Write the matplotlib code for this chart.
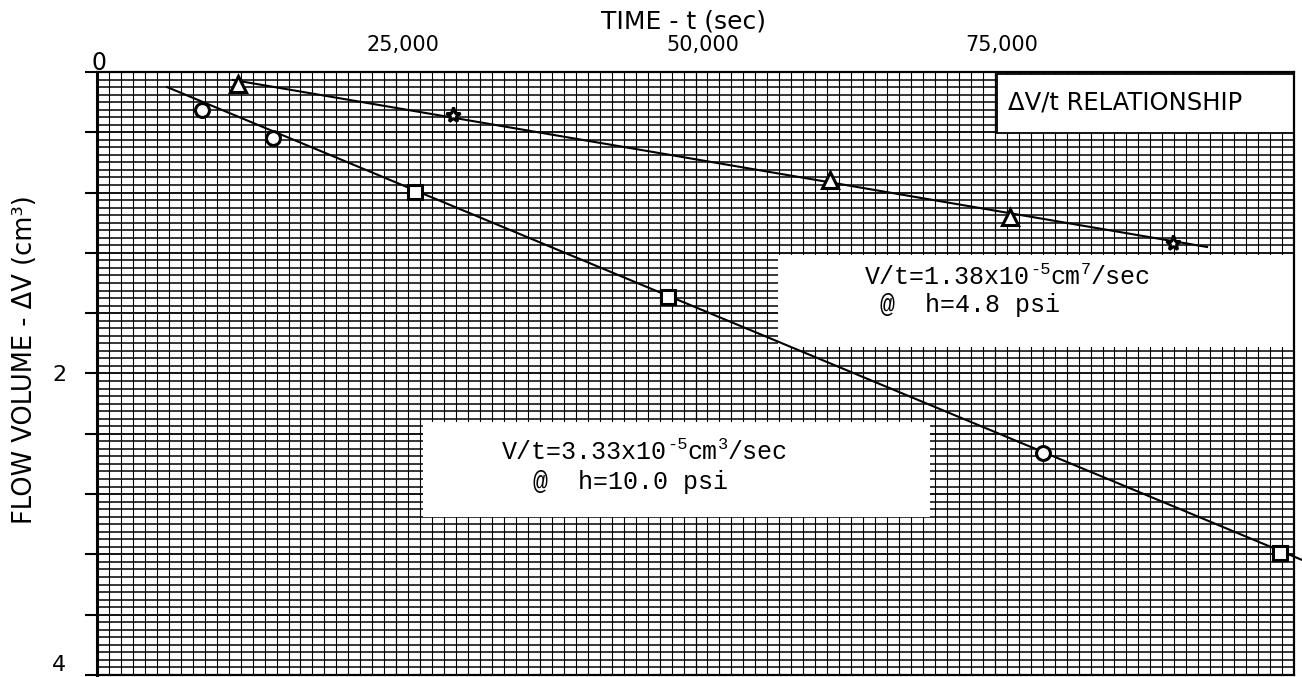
import numpy as np
import matplotlib
matplotlib.use("Agg")
import matplotlib.pyplot as plt
from matplotlib.patches import Rectangle
from matplotlib.ticker import MultipleLocator
from matplotlib.transforms import ScaledTranslation

# datos (t en s, volumen en cm3)
t_48 = [11780, 29740, 61240, 76270, 89890]
v_48 = [0.080, 0.285, 0.716, 0.962, 1.134]
t_100 = [8770, 14700, 26570, 47700, 79030, 98830]
v_100 = [0.252, 0.438, 0.796, 1.493, 2.527, 3.191]

# rectas de ajuste (extremos leidos)
fit_t_48 = [11360, 92730]
fit_v_48 = [0.053, 1.161]
fit_t_100 = [5850, 100670]
fit_v_100 = [0.100, 3.237]

x_ticks = [25000, 50000, 75000]
x_labels = ["25,000", "50,000", "75,000"]
y_ticks = [0, 0.4, 0.8, 1.2, 1.6, 2, 2.4, 2.8, 3.2, 3.6, 4]
y_labels = ["", "", "", "", "", "2", "", "", "", "", "4"]

marcas_48 = ["^", "*", "^", "^", "*"]
marcas_100 = ["o", "o", "s", "s", "o", "s"]

mono = ["Liberation Mono", "DejaVu Sans Mono"]
sans = ["DejaVu Sans"]

fig = plt.figure(figsize=(13.02, 6.77), dpi=100)
ax = fig.add_axes([0.0745, 0.003, 0.9194, 0.8907])
ax.set_xlim(0, 100000)
ax.set_ylim(4, 0)

# papel milimetrado
ax.xaxis.set_minor_locator(MultipleLocator(1000))
ax.yaxis.set_minor_locator(MultipleLocator(0.05))
ax.xaxis.grid(True, which="minor", color="black", lw=0.8)
ax.xaxis.grid(True, which="major", color="black", lw=0.9)
ax.yaxis.grid(True, which="minor", color="black", lw=1.1)
ax.yaxis.grid(True, which="major", color="black", lw=1.3)

ax.set_xticks(x_ticks)
ax.set_xticklabels(x_labels, family=sans, fontsize=15)
ax.xaxis.tick_top()
ax.tick_params(axis="x", which="both", length=0, pad=12)
for lab in ax.get_xticklabels():
    lab.set_transform(lab.get_transform() + ScaledTranslation(7 / 100, 0, fig.dpi_scale_trans))

ax.set_yticks(y_ticks)
ax.set_yticklabels(y_labels, family=sans, fontsize=16)
ax.tick_params(axis="y", which="major", length=9, width=1.5, direction="out", pad=13)
ax.tick_params(axis="y", which="minor", length=0)
ax.get_yticklabels()[-1].set_verticalalignment("bottom")

for lado in ["left", "top", "right", "bottom"]:
    ax.spines[lado].set_linewidth(1.6)
ax.spines["left"].set_linewidth(2.2)

# cajas blancas
ax.add_patch(Rectangle((0.752, 0.899), 0.248, 0.098, transform=ax.transAxes,
                       facecolor="white", edgecolor="black", lw=1.3, zorder=2.2))
ax.add_patch(Rectangle((0.569, 0.544), 0.431, 0.153, transform=ax.transAxes,
                       facecolor="white", edgecolor="none", zorder=2.2))
ax.add_patch(Rectangle((0.272, 0.262), 0.424, 0.158, transform=ax.transAxes,
                       facecolor="white", edgecolor="none", zorder=2.2))

# rectas
ax.plot(fit_t_48, fit_v_48, color="black", lw=1.5, zorder=4)
ax.plot(fit_t_100, fit_v_100, color="black", lw=1.5, zorder=4, clip_on=False)
for t, v, m in zip(t_48, v_48, marcas_48):
    ax.plot(t, v, marker=m, ms=11, mfc="white", mec="black", mew=2.2, zorder=5)
for t, v, m in zip(t_100, v_100, marcas_100):
    ax.plot(t, v, marker=m, ms=10, mfc="white", mec="black", mew=2.2, zorder=5)


def texto_encadenado(x, y, piezas, size):
    base = ax.text(x, y, piezas[0][0], transform=ax.transAxes, fontsize=size,
                   family=mono, ha="left", va="center", zorder=6)
    prev = base
    for s, sup in piezas[1:]:
        if sup:
            prev = ax.annotate(s, xy=(1, 0.5), xycoords=(prev, base), fontsize=size * 0.68,
                               family=mono, ha="left", va="bottom", zorder=6)
        else:
            prev = ax.annotate(s, xy=(1, 0), xycoords=(prev, base), fontsize=size,
                               family=mono, ha="left", va="bottom", zorder=6)
            base = prev


texto_encadenado(0.6417, 1 - (277 - 72) / 603,
                 [("V/t=1.38x10", False), ("-5", True), ("cm", False), ("7", True), ("/sec", False)], 18)
ax.text(0.6542, 1 - (305 - 72) / 603, "@  h=4.8 psi", transform=ax.transAxes,
        fontsize=18, family=mono, ha="left", va="center", zorder=6)

texto_encadenado(0.3384, 1 - (452 - 72) / 603,
                 [("V/t=3.33x10", False), ("-5", True), ("cm", False), ("3", True), ("/sec", False)], 18)
ax.text(0.3643, 1 - (482 - 72) / 603, "@  h=10.0 psi", transform=ax.transAxes,
        fontsize=18, family=mono, ha="left", va="center", zorder=6)

ax.text(0.761, 0.9486, "ΔV/t RELATIONSHIP", transform=ax.transAxes,
        fontsize=17.5, family=sans, ha="left", va="center", zorder=6)

ax.text(0.49, 1.083, "TIME - t (sec)", transform=ax.transAxes,
        fontsize=18, family=sans, ha="center", va="center")
ax.text(0.0017, 1.015, "0", transform=ax.transAxes,
        fontsize=17, family=sans, ha="center", va="center")
fig.text(25 / 1302, 1 - 360 / 677, "FLOW VOLUME - ΔV (cm³)", rotation=90,
         fontsize=18.5, family=sans, ha="center", va="center")

fig.savefig("out.png", dpi=100)
